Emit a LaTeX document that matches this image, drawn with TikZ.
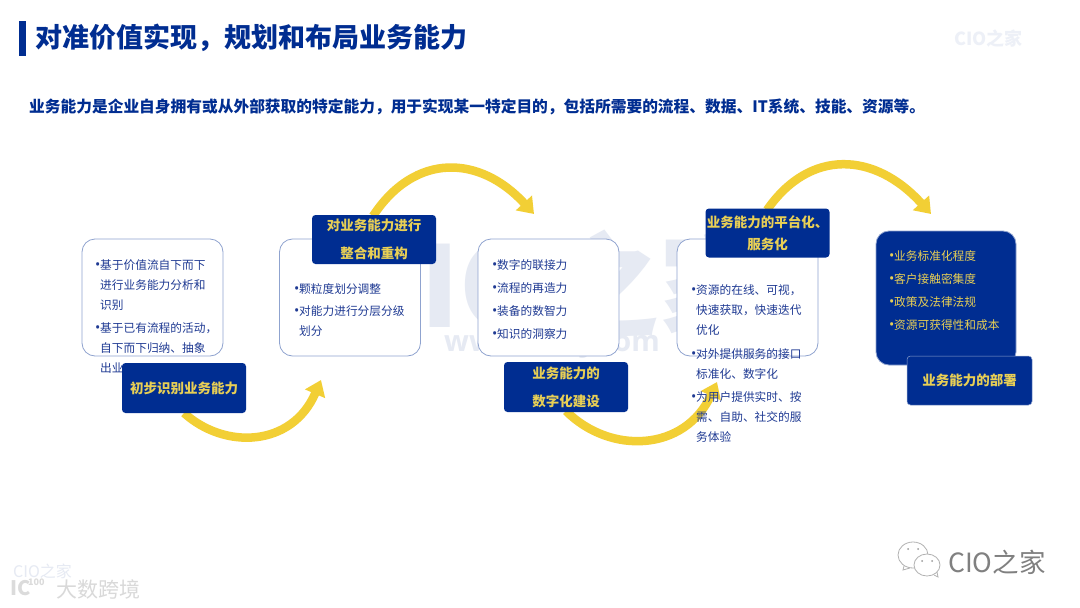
\documentclass[tikz,border=0pt]{standalone}
\usepackage{fontspec}
\setmainfont{Noto Sans CJK SC}
\newfontfamily\latinwm{Open Sans}
\usetikzlibrary{arrows.meta}
\definecolor{navy}{HTML}{002D91}
\definecolor{gold}{HTML}{F2CF35}
\definecolor{goldtext}{HTML}{E8CF55}
\definecolor{edge}{HTML}{8FA3CF}
\definecolor{bodyblue}{HTML}{1F3A93}
\definecolor{wm}{HTML}{E6EAF3}
\newcommand{\bl}[1]{\makebox[5pt][l]{{\latinwm\fontsize{14}{14}\selectfont •}}#1}
\newcommand{\ct}[1]{\hspace*{5pt}#1}
\tikzset{
  x=1pt,y=-1pt,
  flow/.style={draw=gold,line width=8.5pt,-{Triangle[length=15pt,width=21pt]}},
  cardbox/.style={draw=edge,line width=.8pt,fill=white,rounded corners=13pt},
  darkbox/.style={draw=edge,line width=.8pt,fill=navy,rounded corners=13pt},
  labelbox/.style={draw=none,fill=navy,rounded corners=3.5pt,text=goldtext,font=\fontsize{13.5}{28}\selectfont\bfseries,align=center,inner sep=0pt},
  cardtext/.style={anchor=north west,align=left,inner sep=0pt,font=\fontsize{11.7}{20}\selectfont,text=bodyblue},
}
\begin{document}
\begin{tikzpicture}
\useasboundingbox (0,0) rectangle (1080,608);
\fill[white] (0,0) rectangle (1080,608);
% watermarks
\node[text=wm,inner sep=0pt,font=\fontsize{112}{112}\selectfont\bfseries] (wmmain) at (559,284) {CIO之家};
\node[text=wm,inner sep=0pt,font=\latinwm\fontsize{29}{29}\selectfont\bfseries] (wmurl) at (552,344) {www.ciozj.com};
\node[text=wm!70,inner sep=0pt,font=\fontsize{18}{18}\selectfont\bfseries] (wmtop) at (988.5,39) {CIO之家};
% title
\fill[navy] (19,21) rectangle (26,56);
\node[anchor=west,inner sep=0pt,text=navy,font=\fontsize{27}{27}\selectfont\bfseries] (title) at (35,38) {对准价值实现，规划和布局业务能力};
\node[anchor=west,inner sep=0pt,text=navy,font=\fontsize{15.72}{16}\selectfont\bfseries] (subtitle) at (29,107) {业务能力是企业自身拥有或从外部获取的特定能力，用于实现某一特定目的，包括所需要的流程、数据、IT系统、技能、资源等。};
% cards
\node[cardbox,minimum width=141pt,minimum height=117pt,inner sep=0pt] (card1) at (152.5,297.5) {};
\node[cardbox,minimum width=141pt,minimum height=117pt,inner sep=0pt] (card2) at (350,297.5) {};
\node[cardbox,minimum width=141pt,minimum height=117pt,inner sep=0pt] (card3) at (548.5,297.5) {};
\node[cardbox,minimum width=141pt,minimum height=117pt,inner sep=0pt] (card4) at (747.5,297.5) {};
\node[darkbox,minimum width=140pt,minimum height=134pt,inner sep=0pt] (card5) at (946,298) {};
% card texts
\node[cardtext] (t1) at (95,259) {\bl{基于价值流自下而下}\\\ct{进行业务能力分析和}\\\ct{识别}\\[3pt]\bl{基于已有流程的活动，}\\\ct{自下而下归纳、抽象}\\\ct{出业}};
\node[cardtext] (t2) at (294,283.5) {\bl{颗粒度划分调整}\\[2pt]\bl{对能力进行分层分级}\\\ct{划分}};
\node[cardtext] (t3) at (492,259) {\bl{数字的联接力}\\[3pt]\bl{流程的再造力}\\[3pt]\bl{装备的数智力}\\[3pt]\bl{知识的洞察力}};
% arrows
\coordinate (a1s) at (184,413);
\coordinate (a1e) at (321,380);
\coordinate (a2s) at (373,216);
\coordinate (a2e) at (534,214);
\coordinate (a3s) at (566,411);
\coordinate (a3e) at (717,382);
\coordinate (a4s) at (767,210);
\coordinate (a4e) at (931,214);
\draw[flow] (a1s) .. controls (225,450) and (292,447) .. (a1e);
\draw[flow] (a2s) .. controls (415,152) and (480,155) .. (a2e);
\draw[flow] (a3s) .. controls (610,455) and (685,452) .. (a3e);
\draw[flow] (a4s) .. controls (810,148) and (875,152) .. (a4e);
\node[cardtext] (t4) at (691,284) {\bl{资源的在线、可视，}\\\ct{快速获取，快速迭代}\\\ct{优化}\\[4pt]\bl{对外提供服务的接口}\\\ct{标准化、数字化}\\[3pt]\bl{为用户提供实时、按}\\\ct{需、自助、社交的服}\\\ct{务体验}};
\node[cardtext,text=goldtext] (t5) at (889,250) {\bl{业务标准化程度}\\[3.5pt]\bl{客户接触密集度}\\[3pt]\bl{政策及法律法规}\\[3pt]\bl{资源可获得性和成本}};
% labels
\node[labelbox,minimum width=124pt,minimum height=50pt] (lab1) at (184,388) {初步识别业务能力};
\node[labelbox,minimum width=124pt,minimum height=49pt] (lab2) at (374,239.5) {对业务能力进行\\整合和重构};
\node[labelbox,minimum width=124pt,minimum height=50pt] (lab3) at (566,387) {业务能力的\\数字化建设};
\node[labelbox,minimum width=124pt,minimum height=49pt,font=\fontsize{13.5}{21.5}\selectfont\bfseries] (lab4) at (767.5,233) {业务能力的平台化、\\服务化};
\node[labelbox,draw=edge,line width=.5pt,minimum width=125pt,minimum height=49pt] (lab5) at (969.5,380.5) {业务能力的部署};
% bottom-right brand
\begin{scope}[draw=black!30,fill=white,line width=.8pt]
\filldraw (913,555) ellipse (15pt and 13pt);
\draw (904,566) -- (903,570) -- (910,568);
\filldraw (927,565) ellipse (13pt and 11pt);
\draw (934,575) -- (938,577) -- (937,572);
\end{scope}
\foreach \p in {(908,549),(918,549),(922,561),(932,561)} \fill[black!40] \p circle (1pt);
\node[anchor=west,inner sep=0pt,text=black!50,font=\fontsize{26.5}{26.5}\selectfont] (brand) at (948,562) {CIO之家};
% bottom-left watermark
\node[anchor=west,inner sep=0pt,text=wm,font=\fontsize{16}{16}\selectfont] (bl1) at (13,571) {CIO之家};
\node[anchor=west,inner sep=0pt,text=black!15,font=\fontsize{21}{21}\selectfont] (bl2) at (56,589) {大数跨境};
\node[anchor=west,inner sep=0pt,text=black!14,font=\fontsize{20}{20}\selectfont\bfseries] (bl3) at (10,588) {IC};
\node[anchor=west,inner sep=0pt,text=black!14,font=\fontsize{9}{9}\selectfont\bfseries] (bl4) at (28,582) {100};
\end{tikzpicture}
\end{document}
